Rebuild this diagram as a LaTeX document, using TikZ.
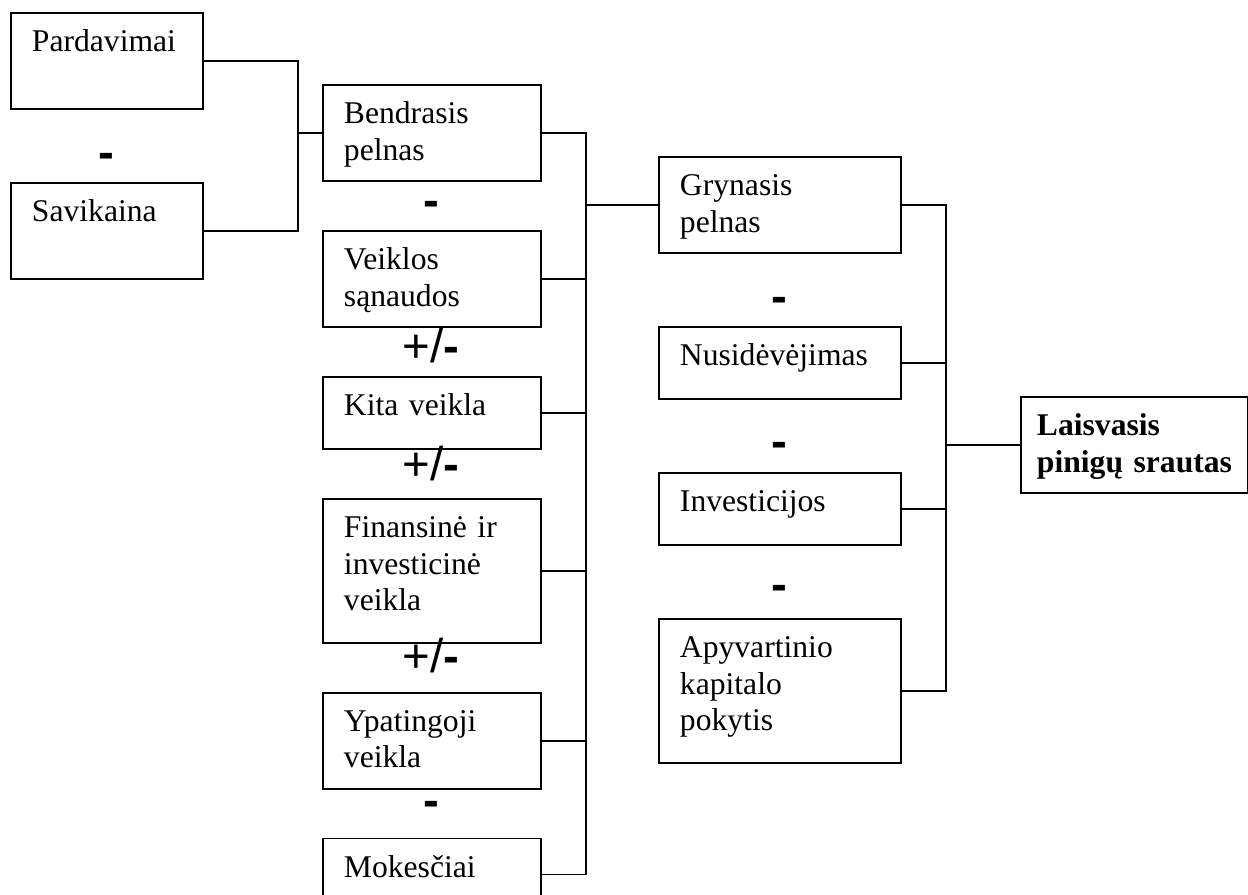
\documentclass[tikz,border=0pt]{standalone}
\usepackage{fontspec}
\setmainfont{Liberation Serif}
\newfontfamily\opfont{Liberation Sans}
\usetikzlibrary{positioning}

\tikzset{
  blk/.style 2 args={draw, line width=1.1pt, anchor=north west, align=left,
    inner xsep=0.42cm, inner ysep=0pt, text width=#1,
    text height=0.78cm, text depth=#2,
    font=\fontsize{18}{20.7}\selectfont},
  minus/.style={anchor=base, inner sep=0pt, font=\opfont\bfseries\fontsize{27}{27}\selectfont},
  plusminus/.style={anchor=base, inner sep=0pt, font=\opfont\fontsize{27}{27}\selectfont},
  link/.style={line width=1.1pt},
}

\begin{document}
\begin{tikzpicture}[x=0.02cm, y=-0.02cm]
    \useasboundingbox (0,0) rectangle (1248,894);

    % first column
    \node (pard) [blk={3.0cm}{1.14cm}] at (10,12) {Pardavimai};
    \node (sav) [blk={3.0cm}{1.14cm}, below=1.44cm of pard] {Savikaina};

    % second column
    \node (bendr) [blk={3.52cm}{1.14cm}] at (322,84) {Bendrasis\\pelnas};
    \node (veikl) [blk={3.52cm}{1.14cm}, below=0.96cm of bendr] {Veiklos\\sąnaudos};
    \node (kita) [blk={3.52cm}{0.66cm}, below=0.96cm of veikl] {Kita veikla};
    \node (fin) [blk={3.52cm}{2.10cm}, below=0.96cm of kita] {Finansinė ir\\investicinė\\veikla};
    \node (ypat) [blk={3.52cm}{1.14cm}, below=0.96cm of fin] {Ypatingoji\\veikla};
    \node (mok) [blk={3.52cm}{0.66cm}, below=0.96cm of ypat] {Mokesčiai};

    % third column
    \node (gryn) [blk={4.0cm}{1.14cm}] at (658,156) {Grynasis\\pelnas};
    \node (nusid) [blk={4.0cm}{0.66cm}, below=1.44cm of gryn] {Nusidėvėjimas};
    \node (invest) [blk={4.0cm}{0.66cm}, below=1.44cm of nusid] {Investicijos};
    \node (apyv) [blk={4.0cm}{2.10cm}, below=1.44cm of invest] {Apyvartinio\\kapitalo\\pokytis};

    % result
    \node (laisv) [blk={3.90cm}{1.14cm}, inner xsep=0.32cm] at (1020,396)
        {\textbf{Laisvasis}\\\mbox{\textbf{pinigų srautas}}};

    % signs
    \node (op1) [minus] at (106,168) {-};
    \node (op2) [minus] at (431,216) {-};
    \node (op3) [plusminus] at (431,362) {+/\textbf{-}};
    \node (op4) [plusminus] at (431,480) {+/\textbf{-}};
    \node (op5) [plusminus] at (431,672) {+/\textbf{-}};
    \node (op6) [minus] at (431,816) {-};
    \node (op7) [minus] at (779,312) {-};
    \node (op8) [minus] at (779,457) {-};
    \node (op9) [minus] at (779,600) {-};

    % brackets
    \coordinate (j1) at ([xshift=-0.48cm]bendr.west);
    \coordinate (j2) at ([xshift=-1.44cm]gryn.west);
    \coordinate (j3) at ([xshift=-1.48cm]laisv.west);

    \draw [link] (pard.east) -| (j1) |- (sav.east);
    \draw [link] (j1) -- (bendr.west);

    \draw [link] (bendr.east) -| (j2) |- (mok.east);
    \foreach \b in {veikl, kita, fin, ypat}
        \draw [link] (\b.east) -- (\b.east -| j2);
    \draw [link] (j2) -- (gryn.west);

    \draw [link] (gryn.east) -| (j3) |- (apyv.east);
    \foreach \b in {nusid, invest}
        \draw [link] (\b.east) -- (\b.east -| j3);
    \draw [link] (j3) -- (laisv.west);
\end{tikzpicture}
\end{document}
